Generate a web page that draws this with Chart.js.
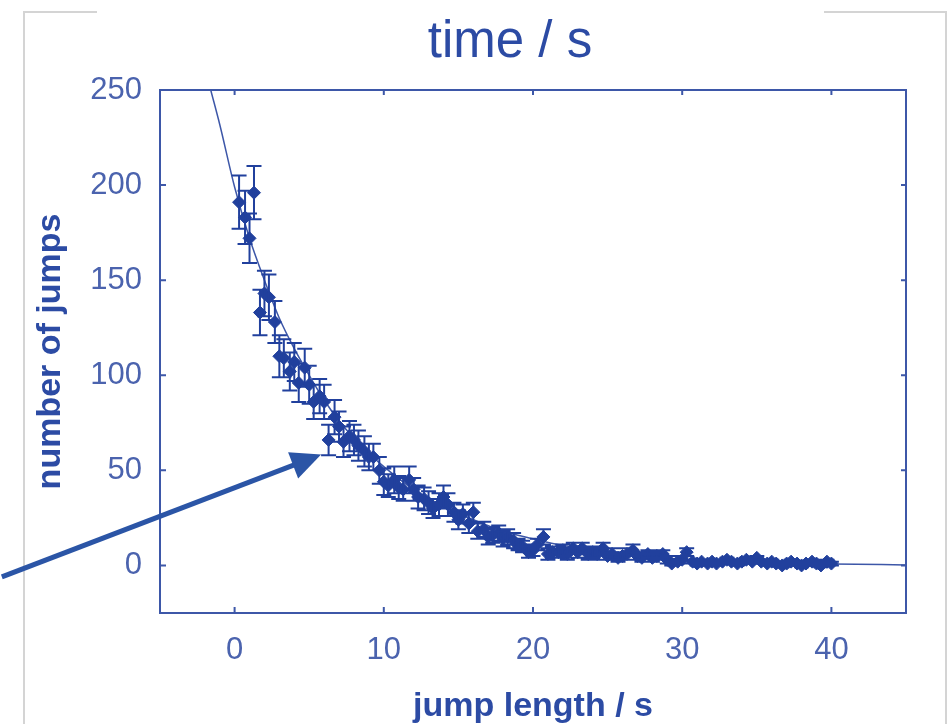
<!DOCTYPE html>
<html>
<head>
<meta charset="utf-8">
<title>number of jumps vs jump length</title>
<script src="https://cdn.jsdelivr.net/npm/chart.js@4/dist/chart.umd.min.js"></script>
<style>
    html, body { margin: 0; padding: 0; background: #ffffff; }
    #wrap { position: relative; width: 952px; height: 724px; }
</style>
</head>
<body>
<div id="wrap"><canvas id="jumpChart" width="952" height="724"></canvas></div>
<script>
// measured jumps (x = jump length / s, y = number of jumps, err = error bar half height)
const jumpX = [
    0.3, 0.7, 1.0, 1.3, 1.7, 2.0, 2.3, 2.7, 3.0, 3.3,
    3.7, 4.0, 4.3, 4.7, 5.0, 5.3, 5.7, 6.0, 6.3, 6.7,
    7.0, 7.3, 7.7, 8.0, 8.3, 8.7, 9.0, 9.3, 9.7, 10.0,
    10.3, 10.7, 11.0, 11.3, 11.7, 12.0, 12.3, 12.7, 13.0, 13.3,
    13.7, 14.0, 14.3, 14.7, 15.0, 15.3, 15.7, 16.0, 16.3, 16.7,
    17.0, 17.3, 17.7, 18.0, 18.3, 18.7, 19.0, 19.3, 19.7, 20.0,
    20.3, 20.7, 21.0, 21.3, 21.7, 22.0, 22.3, 22.7, 23.0, 23.3,
    23.7, 24.0, 24.3, 24.7, 25.0, 25.3, 25.7, 26.0, 26.3, 26.7,
    27.0, 27.3, 27.7, 28.0, 28.3, 28.7, 29.0, 29.3, 29.7, 30.0,
    30.3, 30.7, 31.0, 31.3, 31.7, 32.0, 32.3, 32.7, 33.0, 33.3,
    33.7, 34.0, 34.3, 34.7, 35.0, 35.3, 35.7, 36.0, 36.3, 36.7,
    37.0, 37.3, 37.7, 38.0, 38.3, 38.7, 39.0, 39.3, 39.7, 40.0
];
const jumpCount = [
    191, 183, 172, 196, 133, 143, 141, 128, 110, 109,
    102, 107, 96, 104, 95, 86, 89, 86, 66, 78,
    73, 65, 68, 66, 63, 60, 57, 57, 50, 44,
    42, 45, 41, 40, 45, 40, 36, 35, 33, 30,
    32, 36, 32, 28, 24, 27, 22, 28, 18, 19,
    15, 16, 17, 14, 15, 13, 11, 10, 7, 8,
    11, 15, 6, 7, 7, 8, 6, 9, 7, 9,
    6, 7, 6, 9, 5, 6, 4, 5, 6, 8,
    5, 4, 6, 4, 5, 6, 3, 1, 2, 3,
    7, 2, 1, 2, 1, 2, 1, 2, 3, 2,
    1, 2, 3, 2, 4, 2, 1, 2, 1, 0,
    1, 2, 1, 0, 1, 2, 1, 0, 2, 1
];
const jumpErr = [
    14, 14, 13, 14, 12, 12, 12, 11, 11, 10,
    10, 10, 10, 10, 10, 9, 9, 9, 8, 9,
    8, 8, 8, 8, 8, 8, 7, 7, 7, 7,
    6, 7, 6, 6, 7, 6, 6, 6, 6, 5,
    6, 6, 6, 5, 5, 5, 5, 5, 4, 4,
    4, 4, 4, 4, 4, 4, 3, 3, 3, 3,
    3, 4, 3, 3, 3, 3, 3, 3, 3, 3,
    3, 3, 3, 3, 2, 3, 2, 2, 3, 3,
    2, 2, 2, 2, 2, 2, 2, 1, 1, 2,
    2, 1, 1, 1, 1, 1, 1, 1, 1, 1,
    1, 1, 1, 1, 1, 1, 1, 1, 1, 1,
    1, 1, 1, 1, 1, 1, 1, 1, 1, 1
];

// fitted decay curve
const fitX = [-1.6, -1, 0, 1, 2, 3, 4, 5, 6, 7, 8, 9, 10, 12, 14, 16, 18, 20, 22, 25, 28, 30, 35, 40, 45];
const fitY = [250, 232, 199, 172, 150, 130, 114, 100, 87, 76, 67, 59, 52, 40, 31, 24, 18, 14, 10.5, 7, 4.5, 3.3, 1.8, 0.8, 0.3];

// axis ticks
const xTickValues = [0, 10, 20, 30, 40];
const yTickValues = [0, 50, 100, 150, 200, 250];

// arrow annotation (data coords): tail at left page edge, head at the curve
const arrowFrom = { x: -15.6, y: -6.0 };
const arrowTo = { x: 5.8, y: 58.3 };

const markBlue = "#21409d";
const frameBlue = "#3d57a8";
const labelBlue = "#4b63ae";
const titleBlue = "#2c4ba4";
const arrowBlue = "#2b55a6";
const fontFamily = "'Liberation Sans', Arial, sans-serif";

const jumpPoints = jumpX.map((x, i) => ({ x: x, y: jumpCount[i] }));
const fitPoints = fitX.map((x, i) => ({ x: x, y: fitY[i] }));

// light grey slide frame and the slide heading
const slideFrame = {
    id: "slideFrame",
    beforeDraw(chart) {
        const c = chart.ctx;
        c.save();
        c.strokeStyle = "#d4d4d4";
        c.lineWidth = 2;
        c.beginPath();
        c.moveTo(24, 724);
        c.lineTo(24, 12);
        c.lineTo(97, 12);
        c.moveTo(824, 12);
        c.lineTo(946, 12);
        c.lineTo(946, 724);
        c.stroke();

        c.fillStyle = titleBlue;
        c.font = "51px " + fontFamily;
        c.textAlign = "center";
        c.textBaseline = "alphabetic";
        c.fillText("time / s", 510, 57);
        c.restore();
    },
};

// error bars for the measured points
const errorBars = {
    id: "errorBars",
    afterDatasetsDraw(chart) {
        const c = chart.ctx;
        const xs = chart.scales.x;
        const ys = chart.scales.y;
        c.save();
        c.strokeStyle = markBlue;
        c.lineWidth = 2;
        c.beginPath();
        jumpPoints.forEach((p, i) => {
            const px = xs.getPixelForValue(p.x);
            const top = ys.getPixelForValue(p.y + jumpErr[i]);
            const bot = ys.getPixelForValue(p.y - jumpErr[i]);
            c.moveTo(px, top);
            c.lineTo(px, bot);
            c.moveTo(px - 7.5, top);
            c.lineTo(px + 7.5, top);
            c.moveTo(px - 7.5, bot);
            c.lineTo(px + 7.5, bot);
        });
        c.stroke();
        c.restore();
    },
};

// boxed frame with inward ticks on all four sides, plus the arrow
const boxFrame = {
    id: "boxFrame",
    afterDraw(chart) {
        const c = chart.ctx;
        const a = chart.chartArea;
        const xs = chart.scales.x;
        const ys = chart.scales.y;
        c.save();
        c.strokeStyle = frameBlue;
        c.lineWidth = 2;
        c.strokeRect(a.left, a.top, a.right - a.left, a.bottom - a.top);
        c.beginPath();
        xTickValues.forEach((v) => {
            const px = xs.getPixelForValue(v);
            c.moveTo(px, a.bottom);
            c.lineTo(px, a.bottom - 6);
            c.moveTo(px, a.top);
            c.lineTo(px, a.top + 5);
        });
        yTickValues.forEach((v) => {
            const py = ys.getPixelForValue(v);
            c.moveTo(a.left, py);
            c.lineTo(a.left + 6, py);
            c.moveTo(a.right, py);
            c.lineTo(a.right - 5, py);
        });
        c.stroke();

        const x0 = xs.getPixelForValue(arrowFrom.x);
        const y0 = ys.getPixelForValue(arrowFrom.y);
        const x1 = xs.getPixelForValue(arrowTo.x);
        const y1 = ys.getPixelForValue(arrowTo.y);
        const len = Math.hypot(x1 - x0, y1 - y0);
        const ux = (x1 - x0) / len;
        const uy = (y1 - y0) / len;
        const bx = x1 - ux * 30;
        const by = y1 - uy * 30;
        c.strokeStyle = arrowBlue;
        c.fillStyle = arrowBlue;
        c.lineWidth = 5;
        c.beginPath();
        c.moveTo(x0, y0);
        c.lineTo(bx + ux * 4, by + uy * 4);
        c.stroke();
        c.beginPath();
        c.moveTo(x1, y1);
        c.lineTo(bx - uy * 14, by + ux * 14);
        c.lineTo(bx + uy * 14, by - ux * 14);
        c.closePath();
        c.fill();
        c.restore();
    },
};

const ctx = document.getElementById("jumpChart").getContext("2d");
new Chart(ctx, {
    type: "scatter",
    data: {
        datasets: [
            {
                label: "fit",
                type: "line",
                data: fitPoints,
                borderColor: frameBlue,
                borderWidth: 1.5,
                pointRadius: 0,
                fill: false,
                cubicInterpolationMode: "monotone",
                order: 2,
            },
            {
                label: "number of jumps",
                data: jumpPoints,
                pointStyle: "rectRot",
                pointRadius: 6.5,
                backgroundColor: markBlue,
                borderColor: markBlue,
                borderWidth: 1,
                order: 1,
            },
        ],
    },
    options: {
        responsive: false,
        animation: false,
        layout: {
            padding: { left: 0, right: 46, top: 90, bottom: 0 },
        },
        plugins: {
            legend: { display: false },
            tooltip: { enabled: false },
            title: { display: false },
        },
        scales: {
            x: {
                type: "linear",
                min: -5,
                max: 45,
                afterBuildTicks: (axis) => {
                    axis.ticks = xTickValues.map((v) => ({ value: v }));
                },
                afterFit: (axis) => {
                    axis.height = 111;
                },
                grid: { display: false, drawTicks: false },
                border: { display: false },
                ticks: {
                    color: labelBlue,
                    font: { family: fontFamily, size: 31 },
                    padding: 19,
                    maxRotation: 0,
                },
                title: {
                    display: true,
                    text: "jump length / s",
                    color: titleBlue,
                    font: { family: fontFamily, size: 34, weight: "bold", lineHeight: 1 },
                    padding: { top: 0, bottom: 0 },
                },
            },
            y: {
                type: "linear",
                min: -25,
                max: 250,
                afterBuildTicks: (axis) => {
                    axis.ticks = yTickValues.map((v) => ({ value: v }));
                },
                afterFit: (axis) => {
                    axis.width = 160;
                },
                grid: { display: false, drawTicks: false },
                border: { display: false },
                ticks: {
                    color: labelBlue,
                    font: { family: fontFamily, size: 31 },
                    padding: 18,
                },
                title: {
                    display: true,
                    text: "number of jumps",
                    color: titleBlue,
                    font: { family: fontFamily, size: 34, weight: "bold", lineHeight: 1.2 },
                    padding: { top: 30.6, bottom: 0 },
                },
            },
        },
    },
    plugins: [slideFrame, errorBars, boxFrame],
});
</script>
</body>
</html>
